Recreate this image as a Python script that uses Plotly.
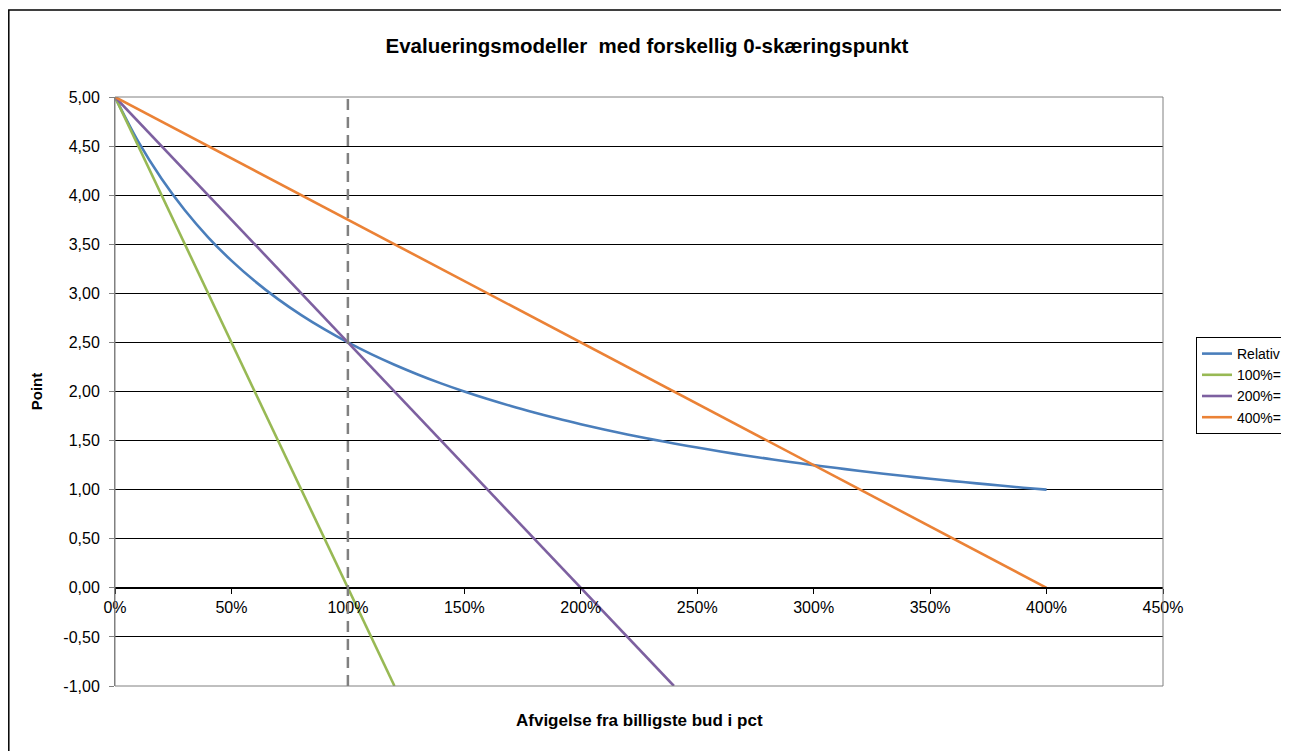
import plotly.graph_objects as go

# ---- data ----
x_relativ = [0.0, 0.1, 0.2, 0.3, 0.4, 0.5, 0.6, 0.7, 0.8, 0.9, 1.0,
             1.1, 1.2, 1.3, 1.4, 1.5, 1.6, 1.7, 1.8, 1.9, 2.0,
             2.1, 2.2, 2.3, 2.4, 2.5, 2.6, 2.7, 2.8, 2.9, 3.0,
             3.1, 3.2, 3.3, 3.4, 3.5, 3.6, 3.7, 3.8, 3.9, 4.0]
y_relativ = [5.00, 4.545, 4.167, 3.846, 3.571, 3.333, 3.125, 2.941, 2.778, 2.632, 2.50,
             2.381, 2.273, 2.174, 2.083, 2.00, 1.923, 1.852, 1.786, 1.724, 1.667,
             1.613, 1.563, 1.515, 1.471, 1.429, 1.389, 1.351, 1.316, 1.282, 1.25,
             1.220, 1.190, 1.163, 1.136, 1.111, 1.087, 1.064, 1.042, 1.020, 1.00]

x_100 = [0.0, 1.2]
y_100 = [5.0, -1.0]

x_200 = [0.0, 2.4]
y_200 = [5.0, -1.0]

x_400 = [0.0, 4.0]
y_400 = [5.0, 0.0]

series_names = ["Relativ", "100%=0", "200%=0", "400%=0"]
series_colors = ["#4A7EBB", "#98B954", "#7D60A0", "#EB8236"]

x_ticks = [0, 0.5, 1.0, 1.5, 2.0, 2.5, 3.0, 3.5, 4.0, 4.5]
x_ticktext = ["0%", "50%", "100%", "150%", "200%", "250%", "300%", "350%", "400%", "450%"]
y_ticks = [-1.0, -0.5, 0.0, 0.5, 1.0, 1.5, 2.0, 2.5, 3.0, 3.5, 4.0, 4.5, 5.0]
y_ticktext = ["-1,00", "-0,50", "0,00", "0,50", "1,00", "1,50", "2,00",
              "2,50", "3,00", "3,50", "4,00", "4,50", "5,00"]
dashed_x = 1.0

title_text = "Evalueringsmodeller  med forskellig 0-skæringspunkt"
x_title = "Afvigelse fra billigste bud i pct"
y_title = "Point"

FONT = "Arial, Liberation Sans, sans-serif"

fig = go.Figure()
for xs, ys, name, col in zip([x_relativ, x_100, x_200, x_400],
                             [y_relativ, y_100, y_200, y_400],
                             series_names, series_colors):
    fig.add_trace(go.Scatter(x=xs, y=ys, mode="lines", name=name,
                             line=dict(color=col, width=2.6,
                                       shape="spline" if name == "Relativ" else "linear")))

# the page body has an 8px margin, so the figure is placed at (8, 8)
OFF = 8
W, H = 1289 - OFF, 751 - OFF
L, T = 115 - OFF, 97 - OFF
R = W - (1163 - OFF)
B = H - (686 - OFF)
PW, PH = W - L - R, H - T - B

fig.update_layout(
    width=W, height=H,
    margin=dict(l=L, r=R, t=T, b=B),
    paper_bgcolor="white", plot_bgcolor="white",
    font=dict(family=FONT, size=15, color="black"),
    title=dict(text="<b>" + title_text + "</b>", x=(647 - OFF) / W, xanchor="center",
               y=1 - (46 - OFF) / H, yanchor="middle", yref="container",
               font=dict(size=20.5, family=FONT, color="black")),
    showlegend=True,
    legend=dict(xref="container", yref="container",
                x=(1196 - OFF) / W, y=1 - (337 - OFF) / H, xanchor="left", yanchor="top",
                bgcolor="white", bordercolor="black", borderwidth=1,
                font=dict(size=14, family=FONT, color="black"),
                tracegroupgap=0, itemwidth=30),
    xaxis=dict(range=[0, 4.5], tickvals=x_ticks, ticktext=x_ticktext,
               anchor="free", position=1 / 6,
               showgrid=False, zeroline=False,
               showline=True, linecolor="black", linewidth=2,
               ticks="outside", ticklen=5, tickcolor="black", tickwidth=1,
               tickfont=dict(size=16, family=FONT, color="black")),
    yaxis=dict(range=[-1, 5], tickvals=y_ticks, ticktext=y_ticktext,
               showgrid=True, gridcolor="black", gridwidth=1,
               zeroline=True, zerolinecolor="black", zerolinewidth=2,
               showline=True, linecolor="#808080", linewidth=1,
               ticks="outside", ticklen=5, tickcolor="#808080",
               ticklabelstandoff=6,
               tickfont=dict(size=16, family=FONT, color="black"),
               title=dict(text="<b>" + y_title + "</b>", standoff=17,
                          font=dict(size=15, family=FONT, color="black"))),
)

# plot-area border (gray)
fig.add_shape(type="rect", xref="paper", yref="paper", x0=0, y0=0, x1=1, y1=1,
              line=dict(color="#808080", width=1), layer="above")
# dashed vertical line at 100%
fig.add_shape(type="line", xref="x", yref="y", x0=dashed_x, x1=dashed_x, y0=-1, y1=5,
              line=dict(color="#808080", width=2.5, dash="11px,7px"), layer="above")
# outer chart border
fig.add_shape(type="rect", xref="paper", yref="paper",
              x0=(0.8 - L) / PW, x1=1.5,
              y0=-0.5, y1=(H - B - 2) / PH,
              line=dict(color="black", width=1.5), layer="below")

# x-axis title at bottom
fig.add_annotation(text="<b>" + x_title + "</b>", xref="paper", yref="paper",
                   x=0.5, y=-(720 - 686) / PH, xanchor="center", yanchor="middle",
                   showarrow=False, font=dict(size=17, family=FONT, color="black"))

fig.write_html("out.html")
